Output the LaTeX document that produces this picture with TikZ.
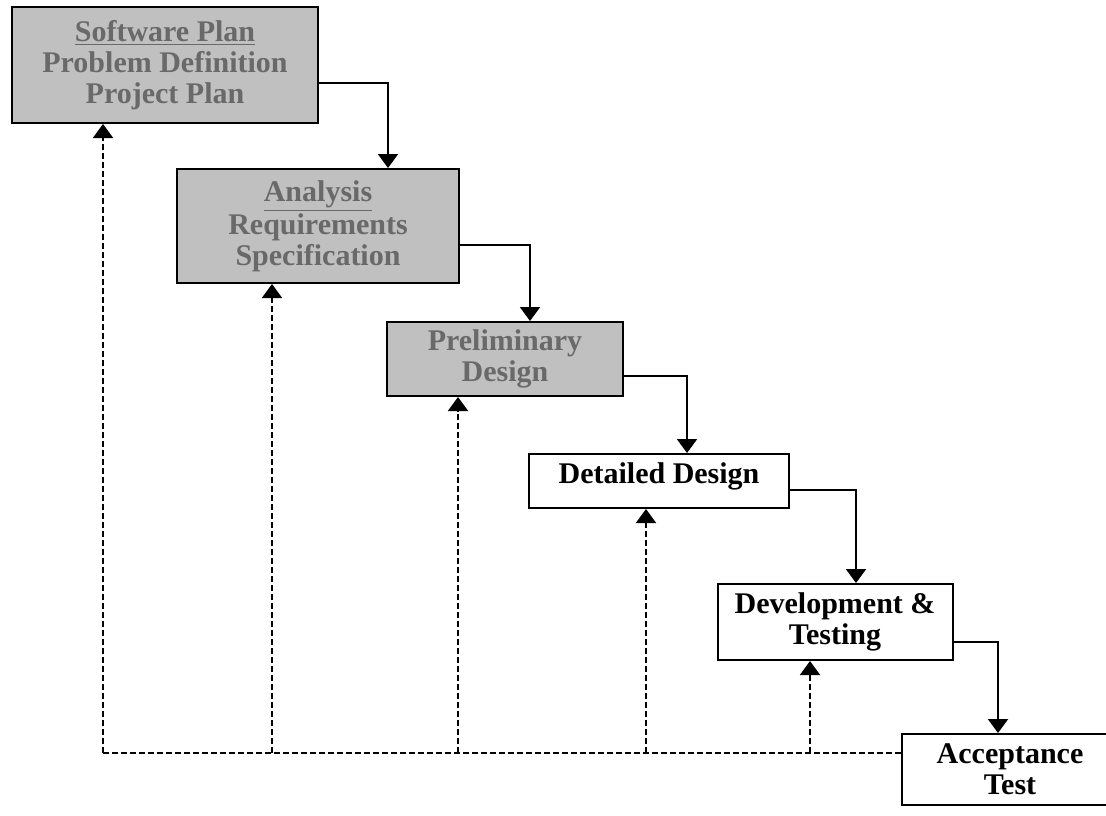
\documentclass[tikz,border=0pt]{standalone}
\usepackage{fontspec}
\setmainfont{Liberation Serif}
\usepackage{tikz}
\usetikzlibrary{arrows.meta}
\definecolor{boxgray}{RGB}{192,192,192}
\definecolor{textgray}{RGB}{105,105,105}

\begin{document}
\begin{tikzpicture}[x=0.5pt, y=-0.5pt,
  box/.style = {draw, line width=1pt, fill=white, align=center, inner sep=0pt,
    font=\fontsize{15}{15.5}\selectfont\bfseries},
  graybox/.style = {box, fill=boxgray, text=textgray},
  flow/.style = {draw, line width=1pt, -{Triangle[width=10pt,length=7pt]}},
  back/.style = {draw, line width=1pt, dash pattern=on 3pt off 1.5pt},
  backarrow/.style = {back, -{Triangle[width=10pt,length=7pt]}}
]
\useasboundingbox (0,0) rectangle (1106,815);
\clip (0,0) rectangle (1106,815);

% phases
\node[graybox, minimum width=153pt, minimum height=58pt] (sw) at (165,65)
  {\underline{Software Plan}\\Problem Definition\\Project Plan};
\node[graybox, minimum width=141pt, minimum height=57pt] (an) at (318,226)
  {\underline{Analysis}\\Requirements\\Specification};
\node[graybox, minimum width=118pt, minimum height=37pt] (pd) at (505,359)
  {Preliminary\\Design};
\node[box, minimum width=130pt, minimum height=27pt, text depth=8pt] (dd) at (659,481)
  {Detailed Design};
\node[box, minimum width=117.5pt, minimum height=38pt] (dt) at (835,622)
  {Development \&\\Testing};
\node[box, minimum width=108pt, minimum height=35.5pt] (at) at (1010,769.5)
  {Acceptance\\Test};

% forward flow
\draw[flow] ([yshift=-9pt]sw.east) -| ([xshift=35pt]an.north);
\draw[flow] ([yshift=-9.5pt]an.east) -| ([xshift=12.5pt]pd.north);
\draw[flow] ([yshift=-8.5pt]pd.east) -| ([xshift=14pt]dd.north);
\draw[flow] ([yshift=-4.5pt]dd.east) -| ([xshift=10.5pt]dt.north);
\draw[flow] ([yshift=-10pt]dt.east) -| ([xshift=-6pt]at.north);

% feedback
\coordinate (fb1) at (103,753);
\coordinate (fb2) at (272,753);
\coordinate (fb3) at (458,753);
\coordinate (fb4) at (646,753);
\coordinate (fb5) at (810,753);
\draw[back] (at.west |- fb1) -- (fb1);
\foreach \n/\b in {1/sw, 2/an, 3/pd, 4/dd, 5/dt}
  \draw[backarrow] (fb\n) -- (fb\n |- \b.south);

\end{tikzpicture}
\end{document}
